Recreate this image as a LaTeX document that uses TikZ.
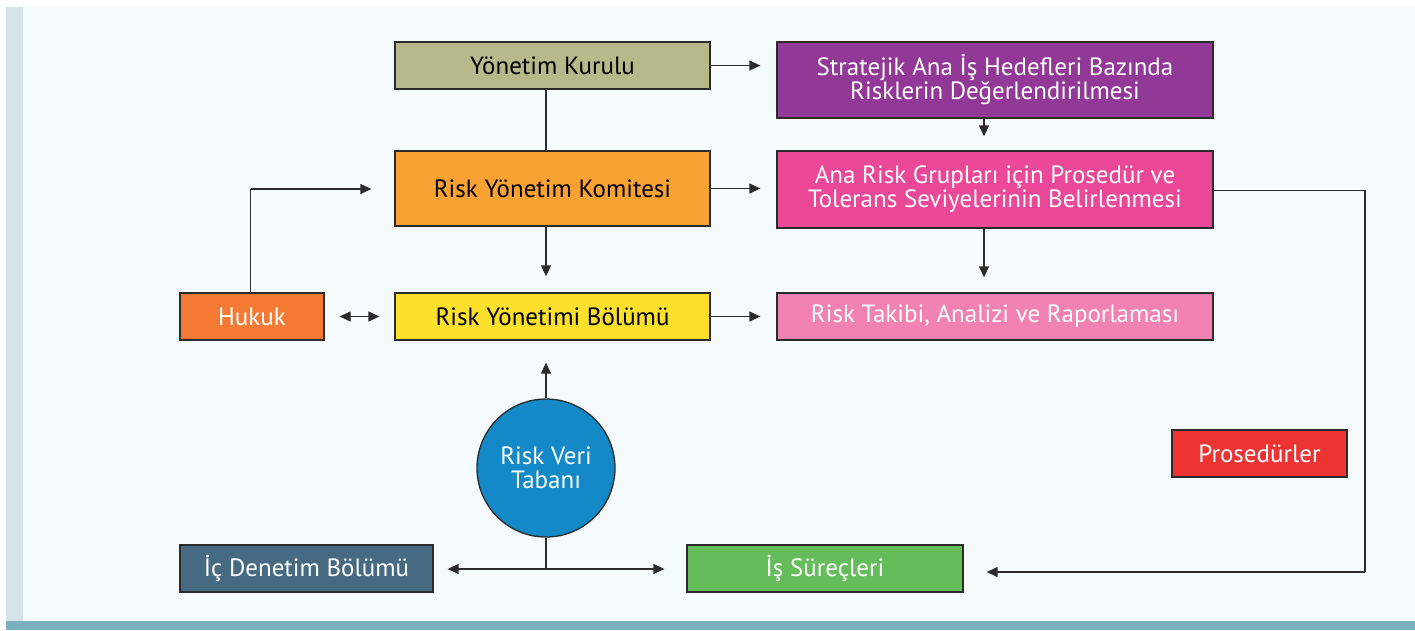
\documentclass[tikz,border=0pt]{standalone}
\usepackage{fontspec}
\setmainfont{PT Sans}
\usetikzlibrary{arrows.meta,calc}
\definecolor{bgc}{HTML}{F5FAFD}
\definecolor{stripc}{HTML}{D6E4E9}
\definecolor{bottomc}{HTML}{7AAFC0}
\definecolor{ykc}{HTML}{B8B98A}
\definecolor{sac}{HTML}{923896}
\definecolor{rkc}{HTML}{F9A131}
\definecolor{arc}{HTML}{EC4898}
\definecolor{hkc}{HTML}{F47A33}
\definecolor{rbc}{HTML}{FDE02B}
\definecolor{rtc}{HTML}{F182B2}
\definecolor{rvc}{HTML}{1389C8}
\definecolor{prc}{HTML}{EE3432}
\definecolor{idc}{HTML}{476A83}
\definecolor{isc}{HTML}{65BC5B}
\definecolor{linec}{HTML}{2B2B2B}
\tikzset{
  boxs/.style={draw=linec, line width=1.3pt, inner sep=0pt, align=center,
    font=\fontsize{25}{24}\selectfont},
  arr/.style={draw=linec, line width=1.3pt, -{Triangle[length=11pt,width=10pt]}},
  darr/.style={draw=linec, line width=1.3pt, {Triangle[length=11pt,width=10pt]}-{Triangle[length=11pt,width=10pt]}},
  ln/.style={draw=linec, line width=1.3pt},
}
\begin{document}
\begin{tikzpicture}[x=1pt,y=-1pt]
\useasboundingbox (0,0) rectangle (1415,630);
\fill[white] (0,0) rectangle (1415,630);
\fill[bgc] (6,7) rectangle (1415,621);
\fill[stripc] (6,7) rectangle (23,621);
\fill[bottomc] (6,621) rectangle (1415,630);

\node[boxs, fill=ykc, minimum width=315pt, minimum height=47pt, text=black] (yk) at (552.5,65.5) {Yönetim Kurulu};
\node[boxs, fill=sac, minimum width=436pt, minimum height=76pt, text=white] (sa) at (995,80) {Stratejik Ana İş Hedefleri Bazında\\Risklerin Değerlendirilmesi};
\node[boxs, fill=rkc, minimum width=315pt, minimum height=75pt, text=black] (rk) at (552.5,188.5) {Risk Yönetim Komitesi};
\node[boxs, fill=arc, minimum width=436pt, minimum height=77pt, text=white] (ar) at (995,189.5) {Ana Risk Grupları için Prosedür ve\\Tolerans Seviyelerinin Belirlenmesi};
\node[boxs, fill=hkc, minimum width=144pt, minimum height=47pt, text=white] (hk) at (252,316.5) {Hukuk};
\node[boxs, fill=rbc, minimum width=315pt, minimum height=47pt, text=black] (rb) at (552.5,316.5) {Risk Yönetimi Bölümü};
\node[boxs, fill=rtc, minimum width=436pt, minimum height=47pt, text=white] (rt) at (995,316.5) {Risk Takibi, Analizi ve Raporlaması};
\node[boxs, circle, fill=rvc, minimum size=138pt, text=white] (rv) at (546,468) {Risk Veri\\Tabanı};
\node[boxs, fill=prc, minimum width=175pt, minimum height=47pt, text=white] (pr) at (1259.5,453.5) {Prosedürler};
\node[boxs, fill=idc, minimum width=253pt, minimum height=47pt, text=white] (id) at (306.5,568.5) {İç Denetim Bölümü};
\node[boxs, fill=isc, minimum width=276pt, minimum height=47pt, text=white] (is) at (825,568.5) {İş Süreçleri};

\coordinate (jn) at (546,569);
\coordinate (hkc) at (250.5,189);
\coordinate (rc1) at (1365,190.5);
\coordinate (rc2) at (1365,572);

% connectors
\draw[arr] (yk.east) -- ($(sa.west |- yk.east)+(-16,0)$);
\draw[ln] (yk.south -| rv.center) -- (rk.north -| rv.center);
\draw[arr] (sa.south -| 984,0) -- ($(ar.north -| 984,0)+(0,-14)$);
\draw[arr] (rk.east) -- ($(ar.west |- rk.east)+(-16,0)$);
\draw[arr] (rk.south -| rv.center) -- ($(rb.north -| rv.center)+(0,-16)$);
\draw[arr] (ar.south -| 984,0) -- ($(rt.north -| 984,0)+(0,-15)$);
\draw[ln] (ar.east |- rc1) -- (rc1) -- (rc2);
\draw[arr] (rc2) -- ($(is.east |- rc2)+(23,0)$);
\draw[ln] (hk.north -| hkc) -- (hkc);
\draw[arr] (hkc) -- ($(rk.west |- hkc)+(-23,0)$);
\draw[darr] ($(hk.east)+(15,0)$) -- ($(rb.west)+(-15,0)$);
\draw[arr] (rb.east) -- ($(rt.west)+(-16,0)$);
\draw[arr] (rv.north) -- ($(rb.south -| rv.center)+(0,22)$);
\draw[ln] (rv.south) -- (jn);
\draw[arr] (jn) -- ($(id.east |- jn)+(14,0)$);
\draw[arr] (jn) -- ($(is.west |- jn)+(-22,0)$);
\end{tikzpicture}
\end{document}
